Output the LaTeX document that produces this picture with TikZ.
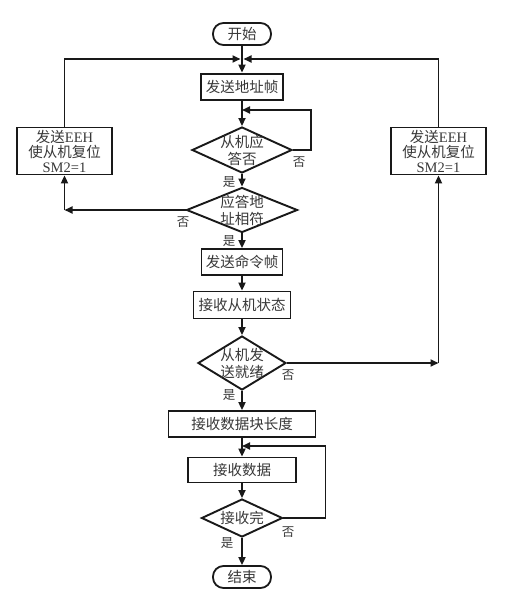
\documentclass[tikz,border=0pt]{standalone}
\usepackage{fontspec}
\setmainfont{Liberation Serif}
\newfontfamily\cjk{Noto Sans CJK SC}
\newcommand{\lat}{\rmfamily}
\usetikzlibrary{
  arrows.meta,
  shapes.geometric
}
\tikzset{
  >={Triangle[length=8pt,width=7pt]},
  flow/.style={->,line width=1.8pt,draw=black!90},
  box/.style={
    draw=black!90,
    line width=1.8pt,
    inner sep=0pt,
    align=center
  },
  heavy box/.style={box,line width=2.8pt},
  term/.style={
    draw=black!90,
    line width=1.8pt,
    rounded corners=10.5pt,
    minimum width=58pt,
    minimum height=22pt,
    inner sep=0pt
  },
  decision/.style={
    diamond,
    draw=black!90,
    line width=1.9pt,
    inner sep=-10pt,
    align=center,
    font=\cjk\fontsize{14.5}{17}\selectfont
  },
  reset box/.style={
    box,
    minimum width=95pt,
    minimum height=47pt,
    font=\cjk\fontsize{14.5}{15}\selectfont
  },
  yn/.style={font=\cjk\fontsize{12.5}{14}\selectfont,inner sep=0pt}
}

\begin{document}
\begin{tikzpicture}[x=1pt,y=-1pt,font=\cjk\fontsize{14.5}{16}\selectfont,text=black!78]
  \fill[white] (0,0) rectangle (515,603);
  \useasboundingbox (0,0) rectangle (515,603);

  \node[term] (start) at (242,34) {开始};
  \node[heavy box,minimum width=82pt,minimum height=26pt] (addr) at (242,87) {发送地址帧};
  \node[decision,minimum width=100pt,minimum height=46pt] (ack) at (242,150) {从机应\\答否};
  \node[decision,minimum width=111pt,minimum height=45pt] (match) at (242,210) {应答地\\址相符};
  \node[box,minimum width=81pt,minimum height=26pt] (cmd) at (242,262) {发送命令帧};
  \node[box,minimum width=97pt,minimum height=27pt] (state) at (242,305) {接收从机状态};
  \node[decision,minimum width=88pt,minimum height=54pt] (ready) at (242,363) {从机发\\送就绪};
  \node[box,minimum width=147pt,minimum height=26pt] (len) at (242,424) {接收数据块长度};
  \node[box,minimum width=108pt,minimum height=25pt] (data) at (242,470) {接收数据};
  \node[decision,minimum width=81pt,minimum height=38pt] (done) at (242,518) {接收完};
  \node[term] (stop) at (242,577) {结束};

  \node[reset box] (resetl) at (64.5,151) {发送{\lat EEH}\\使从机复位\\{\lat SM2=1}};
  \node[reset box] (resetr) at (438.5,151) {发送{\lat EEH}\\使从机复位\\{\lat SM2=1}};

  \coordinate (topjoin) at (242,59);
  \coordinate (ackjoin) at (242,110);
  \coordinate (datajoin) at (242,446);
  \coordinate (leftturn) at (resetl.south |- match.west);
  \coordinate (rightturn) at (resetr.south |- ready.east);

  % main line
  \draw[flow] (start) -- (addr);
  \draw[flow] (addr) -- (ack);
  \draw[flow] (ack) -- (match);
  \draw[flow] (match) -- (cmd);
  \draw[flow] (cmd) -- (state);
  \draw[flow] (state) -- (ready);
  \draw[flow] (ready) -- (len);
  \draw[flow] (len) -- (data);
  \draw[flow] (data) -- (done);
  \draw[flow] (done) -- (stop);

  % loops back
  \draw[flow] (ack.east) -- ++(18,0) |- (ackjoin);
  \draw[flow] (done.east) -- ++(42,0) |- (datajoin);
  \draw[flow] (match.west) -- (leftturn);
  \draw[flow] (leftturn) -- (resetl.south);
  \draw[flow] (resetl.north) |- ([xshift=-1.5pt]topjoin);
  \draw[flow] (ready.east) -- (rightturn);
  \draw[flow] (rightturn) -- (resetr.south);
  \draw[flow] (resetr.north) |- ([xshift=1.5pt]topjoin);

  \node[yn] (ackno) at (299,162) {否};
  \node[yn] (ackyes) at (229,182) {是};
  \node[yn] (matchno) at (183,222) {否};
  \node[yn] (matchyes) at (229,241) {是};
  \node[yn] (readyno) at (288,375) {否};
  \node[yn] (readyyes) at (229,395) {是};
  \node[yn] (doneno) at (288,532) {否};
  \node[yn] (doneyes) at (227,543) {是};
\end{tikzpicture}
\end{document}
